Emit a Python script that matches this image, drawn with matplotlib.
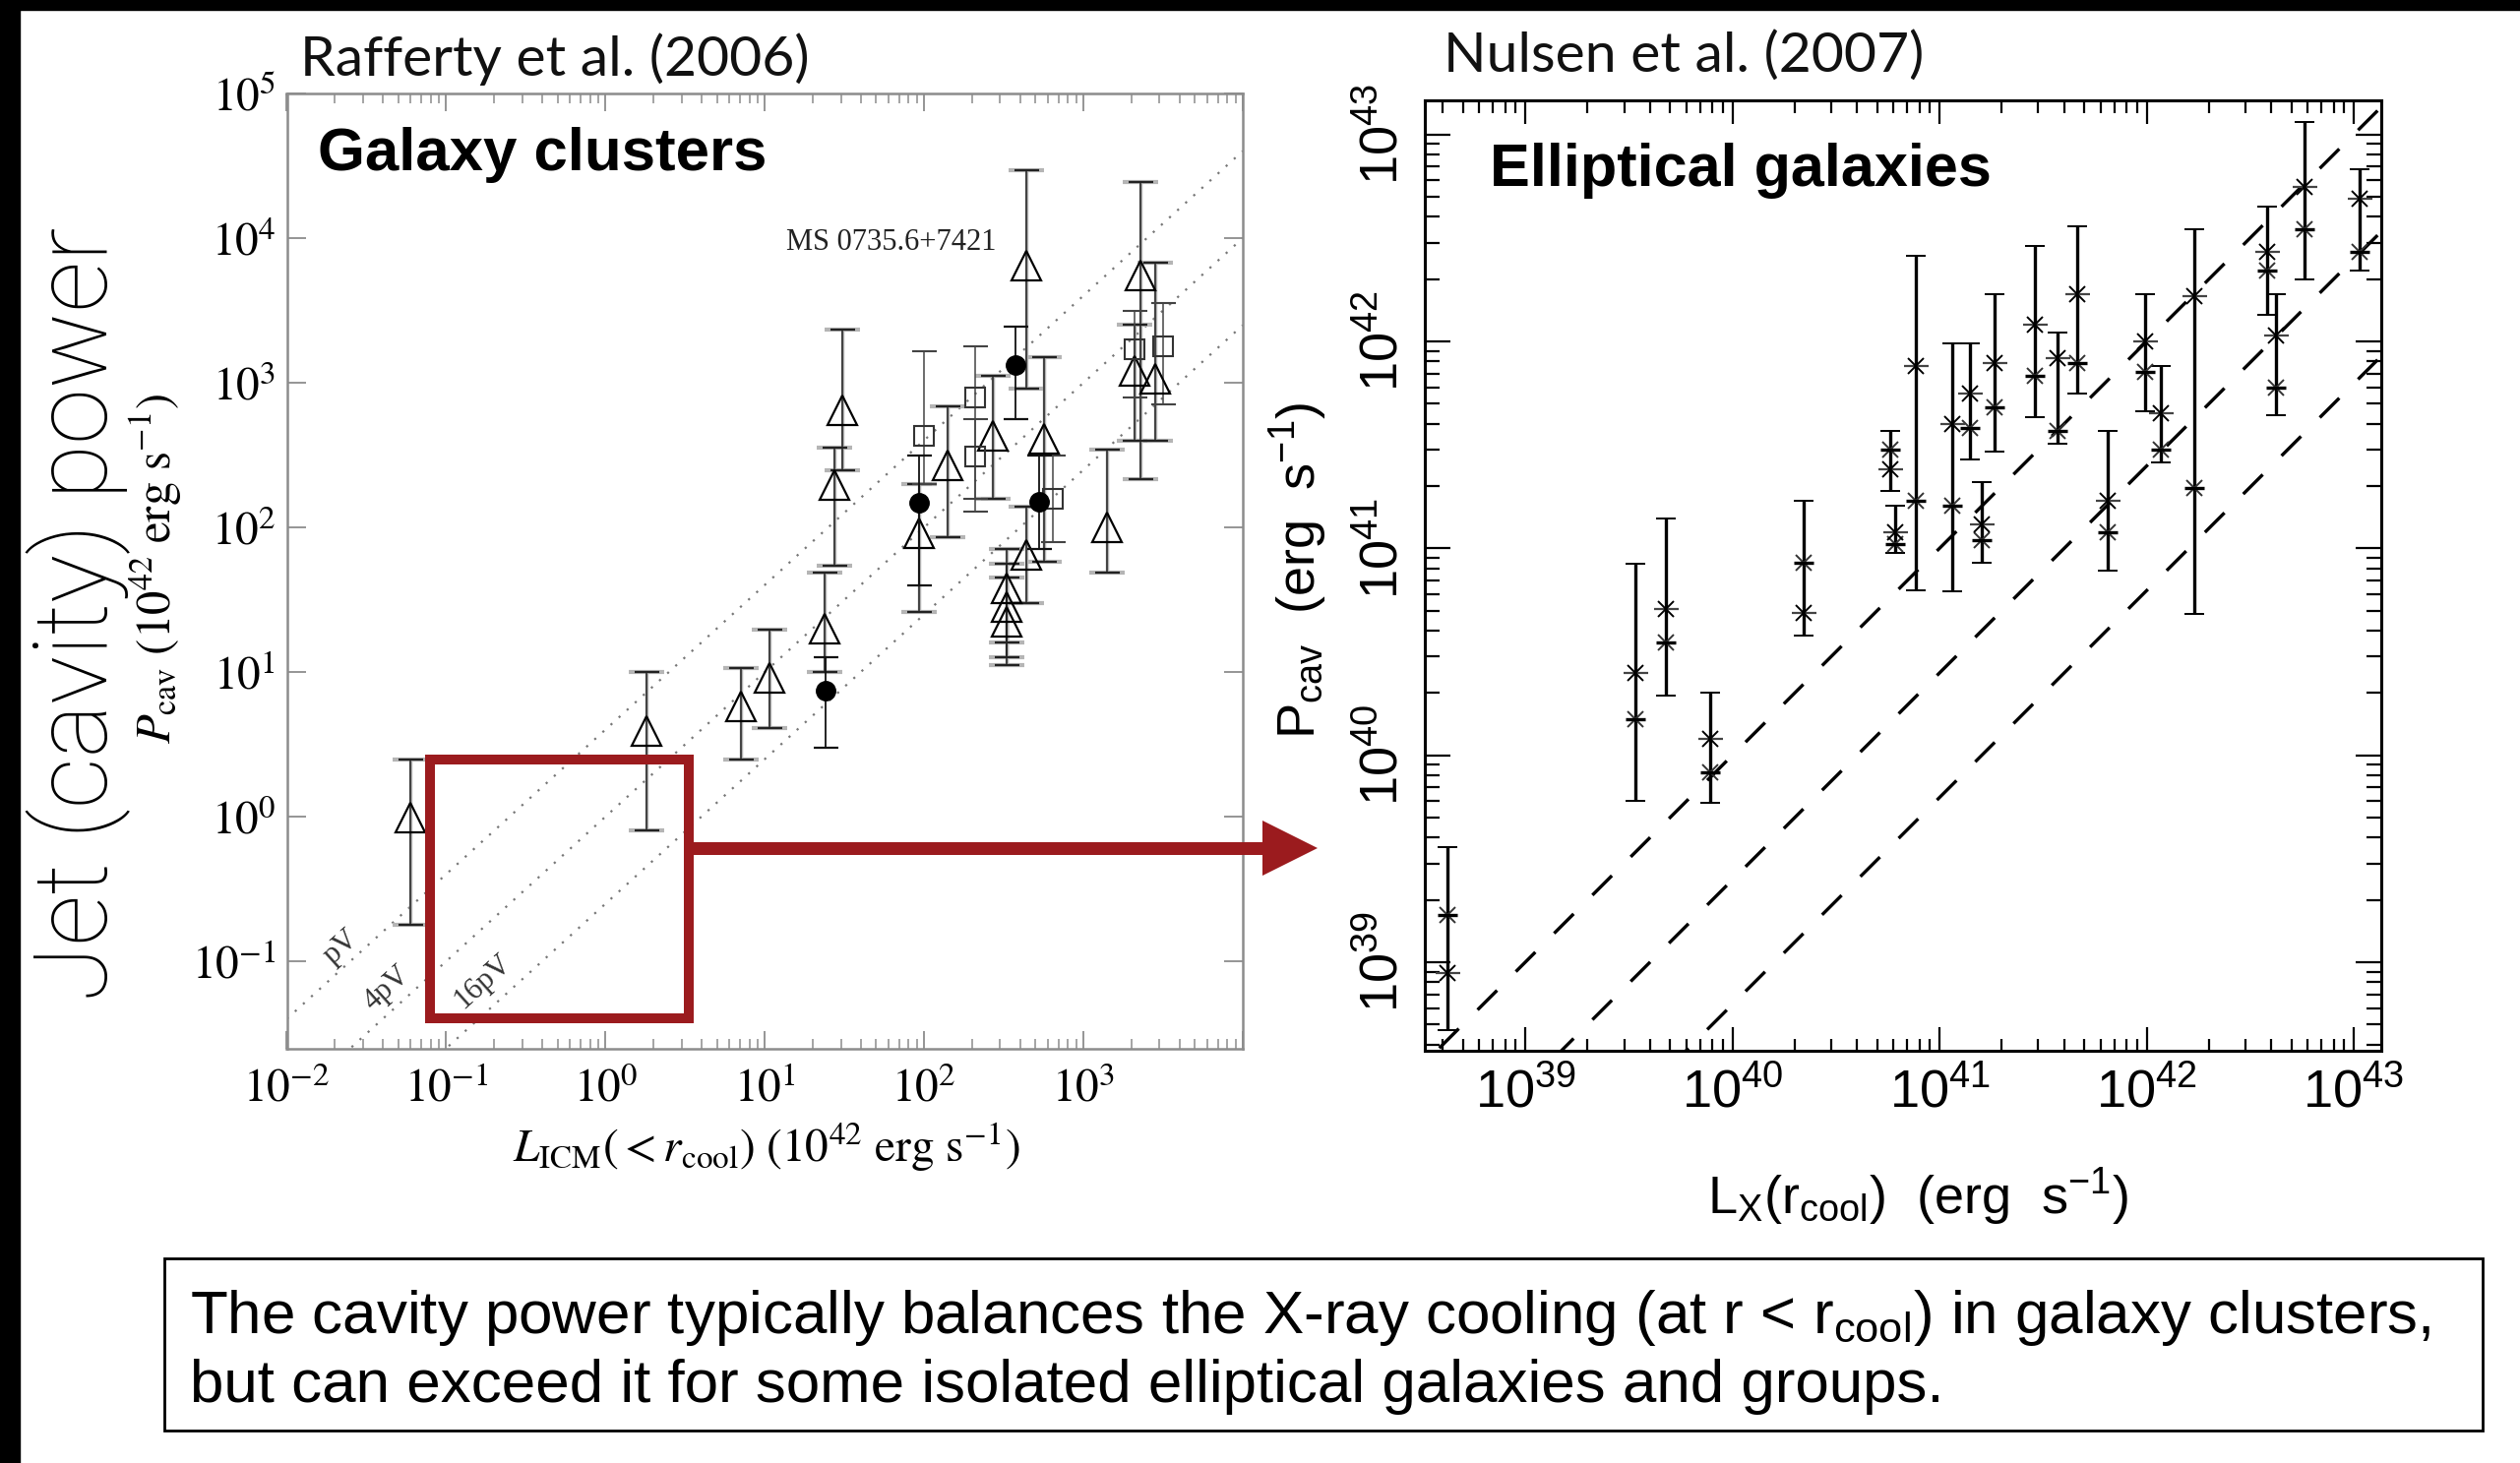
import numpy as np
import matplotlib
matplotlib.use('Agg')
import matplotlib.pyplot as plt
from matplotlib.patches import Rectangle, Polygon
from matplotlib.transforms import Affine2D
from matplotlib.ticker import FixedLocator, NullLocator, LogLocator, FixedFormatter, NullFormatter

W, H, DPI = 2561, 1487, 100

plt.rcParams['font.family'] = ['Liberation Sans', 'DejaVu Sans']
plt.rcParams['mathtext.fontset'] = 'custom'
plt.rcParams['mathtext.rm'] = 'Liberation Sans'
plt.rcParams['mathtext.it'] = 'Liberation Sans:italic'
plt.rcParams['mathtext.bf'] = 'Liberation Sans:bold'

# ---------------- Left panel data (Rafferty et al. 2006), units 1e42 erg/s ----------------
tri_L  = [0.060, 1.8, 7.1, 10.7, 23.7, 27.5, 30.5, 93, 141, 270, 331, 331, 331, 437, 437, 562, 1410, 2290, 2090, 2820]
tri_P  = [0.98, 3.9, 5.8, 9.1, 20, 195, 645, 91, 270, 427, 38, 28, 22.4, 65, 6460, 407, 100, 5500, 1200, 1070]
tri_lo = [0.18, 0.81, 2.5, 4.1, 10, 54, 250, 26, 85, 158, 16, 12.6, 11.2, 30, 912, 58, 49, 214, 398, 398]
tri_hi = [2.5, 10, 10.7, 19.5, 49, 355, 2340, 200, 690, 1120, 71, 56, 44.7, 138, 29500, 1510, 347, 24500, 2510, 6760]

sq_L  = [100, 209, 209, 646, 2090, 3160]
sq_P  = [427, 794, 309, 158, 1700, 1780]
sq_lo = [200, 129, 158, 79, 794, 708]
sq_hi = [1660, 1780, 562, 316, 3160, 3550]

ci_L  = [24, 93, 372, 525]
ci_P  = [7.4, 148, 1320, 151]
ci_lo = [3.0, 40, 562, 71]
ci_hi = [12.6, 316, 2450, 316]

pv_factors = [4.0, 1.0, 0.25]
pv_names = ['pV', '4pV', '16pV']

# ---------------- Right panel data (Nulsen et al. 2007), erg/s ----------------
ell_L  = [4.2e38, 3.4e39, 4.8e39, 7.8e39, 2.2e40, 5.8e40, 6.1e40, 7.7e40, 1.15e41, 1.4e41, 1.6e41,
          1.85e41, 2.9e41, 3.7e41, 4.6e41, 6.5e41, 9.8e41, 1.17e42, 1.7e42, 3.8e42, 4.2e42, 5.8e42, 1.07e43]
ell_lo = [4.7e38, 6.0e39, 1.95e40, 5.9e39, 3.8e40, 1.9e41, 9.5e40, 6.3e40, 6.2e40, 2.7e41, 8.5e40,
          2.95e41, 4.3e41, 3.2e41, 5.6e41, 7.8e40, 4.6e41, 2.6e41, 4.8e40, 1.35e42, 4.4e41, 2.0e42, 2.2e42]
ell_hi = [3.6e39, 8.4e40, 1.4e41, 2.0e40, 1.7e41, 3.7e41, 1.6e41, 2.6e42, 9.8e41, 9.8e41, 2.1e41,
          1.7e42, 2.9e42, 1.1e42, 3.6e42, 3.7e41, 1.7e42, 7.6e41, 3.5e42, 4.5e42, 1.7e42, 1.15e43, 6.8e42]
ell_m1 = [8.9e38, 2.5e40, 5.1e40, 1.2e40, 4.9e40, 2.4e41, 1.2e41, 7.6e41, 4.0e41, 5.6e41, 1.3e41,
          7.9e41, 1.2e42, 8.3e41, 1.7e42, 1.7e41, 1.0e42, 4.5e41, 1.66e42, 2.7e42, 1.07e42, 5.6e42, 4.9e42]
ell_m2 = [1.7e39, 1.5e40, 3.5e40, 8.3e39, 8.5e40, 3.0e41, 1.05e41, 1.7e41, 1.6e41, 3.8e41, 1.1e41,
          4.8e41, 6.8e41, 3.7e41, 7.9e41, 1.2e41, 7.1e41, 3.0e41, 1.95e41, 2.2e42, 6.0e41, 3.5e42, 2.7e42]

heat_factors = [1.0, 0.25, 1.0 / 16]

fig = plt.figure(figsize=(W / DPI, H / DPI), dpi=DPI)
fig.patch.set_facecolor('white')
PX = Affine2D().scale(1, -1).translate(0, H).scale(1.0 / W, 1.0 / H) + fig.transFigure

def fx(x):
    return x / W

def fy(y):
    return 1 - y / H

# black frame strips
fig.patches.append(Rectangle((0, 0), 20, H, transform=PX, color='black', zorder=0))
fig.patches.append(Rectangle((0, 0), W, 10, transform=PX, color='black', zorder=0))

# ======================= LEFT PANEL =======================
grey = '#8c8c8c'
axL = fig.add_axes([291.5 / W, fy(1066), 971.5 / W, 971 / H])
axL.set_xscale('log')
axL.set_yscale('log')
axL.set_xlim(1e-2, 1e4)
axL.set_ylim(10 ** -1.605, 1e5)
for s in axL.spines.values():
    s.set_color(grey)
    s.set_linewidth(1.8)

xmaj = [1e-2, 1e-1, 1e0, 1e1, 1e2, 1e3, 1e4]
axL.xaxis.set_major_locator(FixedLocator(xmaj))
axL.xaxis.set_major_formatter(FixedFormatter([r'$10^{%d}$' % e for e in range(-2, 4)] + ['']))
axL.xaxis.set_minor_locator(LogLocator(base=10, subs=np.arange(2, 10), numticks=20))
axL.xaxis.set_minor_formatter(NullFormatter())
ymaj = [1e-1, 1e0, 1e1, 1e2, 1e3, 1e4, 1e5]
axL.yaxis.set_major_locator(FixedLocator(ymaj))
axL.yaxis.set_major_formatter(FixedFormatter([r'$10^{%d}$' % e for e in range(-1, 6)]))
axL.yaxis.set_minor_locator(NullLocator())
axL.tick_params(axis='x', which='major', direction='in', top=True, length=13, width=1.3,
                color=grey, labelsize=34, pad=14)
axL.tick_params(axis='x', which='minor', direction='in', top=True, length=7, width=1.1, color=grey)
axL.tick_params(axis='y', which='major', direction='in', right=True, length=14, width=1.3,
                color=grey, labelsize=34, pad=8)
for t in axL.get_xticklabels() + axL.get_yticklabels():
    t.set_math_fontfamily('stix')

xs = np.logspace(-2, 4, 200)
for k in pv_factors:
    axL.plot(xs, [k * v for v in xs], ls=(0, (1, 4)), color='#777777', lw=1.6, zorder=1)

def yerr(P, lo, hi):
    P = np.asarray(P, float)
    return [P - np.asarray(lo, float), np.asarray(hi, float) - P]

# grey wide caps (systematic ranges) underneath
axL.errorbar(tri_L, tri_P, yerr=yerr(tri_P, tri_lo, tri_hi), fmt='none', ecolor='#b5b5b5',
             elinewidth=2.5, capsize=13, capthick=3, zorder=2)
axL.errorbar(tri_L, tri_P, yerr=yerr(tri_P, tri_lo, tri_hi), fmt='^', mfc='none', mec='k', ms=21,
             mew=1.6, ecolor='#222222', elinewidth=1.1, capsize=9, capthick=1.2, zorder=3)
axL.errorbar(sq_L, sq_P, yerr=yerr(sq_P, sq_lo, sq_hi), fmt='s', mfc='none', mec='#333333', ms=15,
             mew=1.5, ecolor='#444444', elinewidth=1.1, capsize=9, capthick=1.2, zorder=3)
axL.errorbar(ci_L, ci_P, yerr=yerr(ci_P, ci_lo, ci_hi), fmt='o', mfc='k', mec='k', ms=14,
             ecolor='#111111', elinewidth=1.3, capsize=9, capthick=1.6, zorder=4)

# pV labels
lab_pos = [(10 ** -1.66, 10 ** -0.90), (10 ** -1.37, 10 ** -1.19), (10 ** -0.77, 10 ** -1.14)]
for (x, y), name in zip(lab_pos, pv_names):
    axL.text(x, y, name, rotation=42, ha='center', va='center', fontsize=22,
             family='Liberation Serif', color='#333333')

axL.text(906, 247, 'MS 0735.6+7421', transform=PX, ha='center', va='center', fontsize=22,
         family='Liberation Serif', color='#222222')
fig.text(fx(323), fy(157), 'Galaxy clusters', ha='left', va='center', fontsize=44.5,
         fontweight='bold', family='Liberation Sans')

fig.text(fx(779), fy(1166), r'$L_{\rm ICM}(<r_{\rm cool})\ (10^{42}\ {\rm erg\ s^{-1}})$',
         ha='center', va='center', fontsize=34, math_fontfamily='stix')
fig.text(fx(158), fy(578), r'$P_{\rm cav}\ (10^{42}\ {\rm erg\ s^{-1}})$', rotation=90,
         ha='center', va='center', fontsize=35, math_fontfamily='stix')

# ======================= RIGHT PANEL =======================
axR = fig.add_axes([1448 / W, fy(1068), 972 / W, 966 / H])
axR.set_xscale('log')
axR.set_yscale('log')
axR.set_xlim(10 ** 38.515, 10 ** 43.133)
axR.set_ylim(10 ** 38.572, 10 ** 43.165)
for s in axR.spines.values():
    s.set_color('black')
    s.set_linewidth(2.2)
maj = [1e39, 1e40, 1e41, 1e42, 1e43]
for ax_ in (axR.xaxis, axR.yaxis):
    ax_.set_major_locator(FixedLocator(maj))
    ax_.set_major_formatter(FixedFormatter([r'$10^{%d}$' % e for e in range(39, 44)]))
    ax_.set_minor_locator(LogLocator(base=10, subs=np.arange(2, 10), numticks=20))
    ax_.set_minor_formatter(NullFormatter())
axR.tick_params(axis='x', which='major', direction='in', top=True, length=17, width=1.6,
                labelsize=39, pad=12)
axR.tick_params(axis='x', which='minor', direction='in', top=True, length=9, width=1.6)
axR.tick_params(axis='y', which='major', direction='in', right=True, length=19, width=1.6,
                labelsize=39, pad=12)
axR.tick_params(axis='y', which='minor', direction='in', right=True, length=11, width=1.6)
for t in axR.get_yticklabels():
    t.set_rotation(90)
    t.set_va('center')
    t.set_ha('right')

xr = np.logspace(38.4, 43.3, 200)
for k in heat_factors:
    axR.plot(xr, [k * v for v in xr], color='black', ls=(0, (8.4, 8.1)), lw=2.4, zorder=1)

axR.errorbar(ell_L, ell_m1, yerr=yerr(ell_m1, ell_lo, ell_hi), fmt='x', color='black', ms=11,
             mew=1.4, elinewidth=2.4, capsize=7, capthick=2.4, zorder=3)
axR.plot(ell_L, ell_m2, 'x', color='#333333', ms=11, mew=1.4, zorder=3)
axR.plot(ell_L, ell_m2, '_', color='black', ms=14, mew=2.4, zorder=3)
axR.plot(ell_L, ell_m1, '_', color='#444444', ms=18, mew=1.6, zorder=3)

fig.text(fx(1514), fy(173), 'Elliptical galaxies', ha='left', va='center', fontsize=44,
         fontweight='bold', family='Liberation Sans')
fig.text(fx(1949), fy(1217), r'L$_{\rm X}$(r$_{\rm cool}$)  (erg  s$^{-1}$)', ha='center',
         va='center', fontsize=39)
fig.text(fx(1320), fy(580), r'P$_{\rm cav}$  (erg  s$^{-1}$)', rotation=90, ha='center',
         va='center', fontsize=39)

# ======================= Annotations =======================
fig.text(fx(305), fy(60), 'Rafferty et al. (2006)', ha='left', va='center', fontsize=41,
         family='Lato', color='#111111')
fig.text(fx(1467), fy(57), 'Nulsen et al. (2007)', ha='left', va='center', fontsize=41,
         family='Lato', color='#111111')
fig.text(fx(80), fy(624), 'Jet (cavity) power', rotation=90, ha='center', va='center',
         fontsize=74, family=['Roboto', 'Lato'], fontweight='light', color='black')

red = '#9B1B1E'
fig.patches.append(Rectangle((437, 772), 263, 263, transform=PX, fill=False, ec=red, lw=7.2,
                             zorder=10))
fig.patches.append(Rectangle((700, 855.5), 590, 13, transform=PX, color=red, lw=0, zorder=10))
fig.patches.append(Polygon([(1283, 834), (1339, 862), (1283, 890)], closed=True, transform=PX,
                           color=red, lw=0, zorder=10))

fig.patches.append(Rectangle((167, 1279), 2356, 175, transform=PX, fill=False, ec='black', lw=2,
                             zorder=10))
fig.text(fx(193), fy(1339), r'The cavity power typically balances the X-ray cooling (at r < r$_{\rm cool}$) in galaxy clusters,',
         ha='left', va='center', fontsize=44.6)
fig.text(fx(193), fy(1409), 'but can exceed it for some isolated elliptical galaxies and groups.',
         ha='left', va='center', fontsize=44.6)

fig.savefig('out.png', dpi=DPI)
